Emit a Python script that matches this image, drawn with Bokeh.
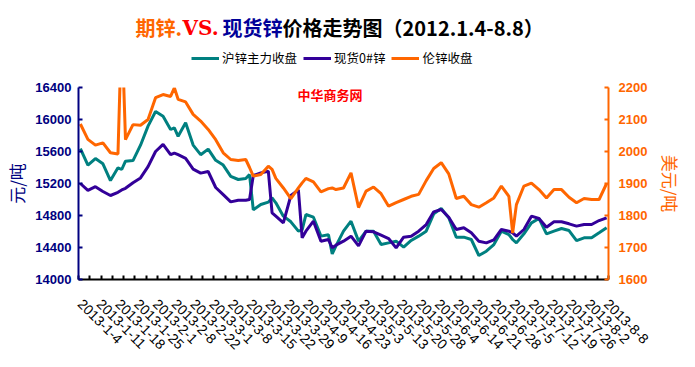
import math
from bokeh.plotting import figure
from bokeh.layouts import column
from bokeh.models import Range1d, LinearAxis, FixedTicker, Legend, Label
from bokeh.embed import file_html
from bokeh.resources import INLINE

# trading-day index (category position) of each reading
DAY = [0, 2, 4, 6, 8, 10, 11, 12, 14, 16, 18, 20, 22, 24, 25, 26, 28, 30, 32, 34,
       36, 38, 40, 42, 44, 45, 46, 48, 50, 51, 52, 54, 56, 58, 59, 60, 62, 64, 66, 67,
       68, 70, 72, 74, 76, 78, 80, 82, 84, 86, 88, 90, 92, 94, 96, 98, 100, 102, 104, 106,
       108, 110, 112, 114, 115, 116, 118, 120, 122, 124, 126, 128, 130, 132, 134, 136, 138, 140]

# 沪锌主力收盘 (yuan/t)
SHFE = [15637, 15429, 15512, 15446, 15237, 15396, 15375, 15479, 15487, 15679, 15917, 16100, 16040, 15875, 15896, 15790, 15960, 15680, 15560, 15630,
        15490, 15430, 15290, 15250, 15262, 15312, 14870, 14938, 14967, 15021, 14958, 14792, 14721, 14604, 14620, 14812, 14779, 14542, 14560, 14320,
        14420, 14604, 14729, 14480, 14604, 14604, 14437, 14458, 14479, 14404, 14488, 14542, 14604, 14821, 14887, 14771, 14529, 14529, 14500, 14300,
        14354, 14437, 14604, 14562, 14500, 14458, 14571, 14708, 14763, 14571, 14604, 14637, 14612, 14487, 14521, 14521, 14583, 14646]

# 现货0#锌 (yuan/t)
SPOT = [15200, 15115, 15160, 15100, 15050, 15090, 15120, 15140, 15210, 15270, 15410, 15600, 15690, 15560, 15580, 15560, 15515, 15380, 15330, 15350,
        15150, 15060, 14970, 14990, 14990, 15000, 15300, 15333, 15354, 14833, 14792, 14708, 15050, 15120, 14521, 14604, 14729, 14479, 14500, 14396,
        14429, 14479, 14542, 14420, 14604, 14596, 14554, 14512, 14396, 14529, 14542, 14604, 14687, 14846, 14875, 14779, 14625, 14646, 14583, 14479,
        14458, 14496, 14625, 14604, 14583, 14542, 14625, 14792, 14763, 14654, 14721, 14721, 14696, 14667, 14687, 14687, 14737, 14771]

# 伦锌收盘 (USD/t)
LME = [2086, 2038, 2020, 2027, 1996, 1992, 2400, 2037, 2084, 2082, 2100, 2168, 2178, 2172, 2199, 2163, 2155, 2116, 2095, 2069,
       2037, 1996, 1975, 1972, 1975, 1950, 1923, 1928, 1954, 1944, 1916, 1886, 1853, 1886, 1902, 1916, 1905, 1874, 1884, 1886,
       1881, 1886, 1933, 1825, 1876, 1889, 1868, 1829, 1840, 1850, 1860, 1866, 1909, 1947, 1965, 1930, 1853, 1860, 1834, 1826,
       1840, 1855, 1892, 1860, 1745, 1834, 1892, 1901, 1881, 1855, 1881, 1881, 1857, 1840, 1853, 1850, 1850, 1900]

LABEL_DAY = list(range(0, 141, 5))
LABEL_TEXT = ["2013-1-4", "2013-1-11", "2013-1-18", "2013-1-25", "2013-2-1", "2013-2-8",
              "2013-2-22", "2013-3-1", "2013-3-8", "2013-3-15", "2013-3-22", "2013-3-29",
              "2013-4-9", "2013-4-16", "2013-4-23", "2013-5-3", "2013-5-13", "2013-5-20",
              "2013-5-28", "2013-6-4", "2013-6-14", "2013-6-21", "2013-6-28", "2013-7-5",
              "2013-7-12", "2013-7-19", "2013-7-26", "2013-8-2", "2013-8-8"]
LEFT_TICKS = [14000, 14400, 14800, 15200, 15600, 16000, 16400]
RIGHT_TICKS = [1600, 1700, 1800, 1900, 2000, 2100, 2200]
SERIES_NAMES = ["沪锌主力收盘", "现货0#锌", "伦锌收盘"]

N_CAT = 141
MINOR = [-0.5 + 3 * k for k in range(N_CAT // 3 + 1)]

TEAL = "#008080"
PURPLE = "#330099"
ORANGE = "#FF6600"
NAVY = "#000080"
CJK = "Noto Sans CJK SC"
LAT = "Liberation Sans"
SERIF = "DejaVu Serif"

W = 692
HEAD_H = 75
FRAME_L, FRAME_R = 78, 608   # page pixel extent of the (aligned) plot frames

# ---------------- header: multi-coloured title + legend ----------------
head = figure(width=W, height=HEAD_H, output_backend="svg", toolbar_location=None,
              x_range=Range1d(FRAME_L, FRAME_R), y_range=Range1d(HEAD_H, 0),
              x_axis_type=None, y_axis_type=None, min_border=0,
              min_border_left=FRAME_L, min_border_right=W - FRAME_R)
head.outline_line_color = None
head.xgrid.visible = False
head.ygrid.visible = False
head.border_fill_color = "white"

title_parts = [("期锌.", ORANGE, 135, CJK), ("VS.", "#FF0000", 182, SERIF),
               ("现货锌", "#000099", 222, CJK), ("价格走势图（2012.1.4-8.8）", "black", 282, CJK)]
for txt, col, xs, fnt in title_parts:
    head.add_layout(Label(x=xs, y=27, text=txt, text_color=col, text_font=fnt,
                          text_font_size="20px", text_font_style="bold",
                          text_baseline="middle", text_align="left"))

# hidden copies of the series, used only to give the legend its line samples
h1 = head.line(DAY, SHFE, color=TEAL, line_width=3, visible=False)
h2 = head.line(DAY, SPOT, color=PURPLE, line_width=3, visible=False)
h3 = head.line(DAY, LME, color=ORANGE, line_width=3, visible=False)
legend = Legend(items=[(SERIES_NAMES[0], [h1]), (SERIES_NAMES[1], [h2]), (SERIES_NAMES[2], [h3])],
                location=(191 - FRAME_L, 8), orientation="horizontal", padding=0, margin=0,
                spacing=6, label_standoff=3, glyph_width=28, glyph_height=14, label_height=14,
                border_line_color=None, background_fill_alpha=0, inactive_fill_alpha=0,
                label_text_font=CJK, label_text_font_size="12.5px", label_text_color="black")
head.add_layout(legend, "center")

# ---------------- main chart ----------------
p = figure(width=W, height=289, output_backend="svg", toolbar_location=None,
           x_range=Range1d(-0.5, N_CAT - 0.5), y_range=Range1d(14000, 16400),
           min_border_left=FRAME_L, min_border_right=W - FRAME_R, min_border_top=12, min_border_bottom=85)
p.extra_y_ranges = {"usd": Range1d(1600, 2200)}
p.outline_line_color = None
p.xgrid.visible = False
p.ygrid.visible = False
p.background_fill_color = "white"
p.border_fill_color = "white"

r1 = p.line(DAY, SHFE, color=TEAL, line_width=3)
r2 = p.line(DAY, SPOT, color=PURPLE, line_width=3)
r3 = p.line(DAY, LME, color=ORANGE, line_width=3, y_range_name="usd")

# x axis
xa = p.xaxis[0]
xa.ticker = FixedTicker(ticks=LABEL_DAY, minor_ticks=MINOR)
xa.major_label_overrides = {d: t for d, t in zip(LABEL_DAY, LABEL_TEXT)}
xa.major_label_orientation = -math.pi / 4
xa.major_label_text_font = LAT
xa.major_label_text_font_size = "14px"
xa.major_label_text_color = "black"
xa.major_label_standoff = 16
xa.axis_line_color = "black"
xa.axis_line_width = 2
xa.major_tick_line_color = None
xa.minor_tick_line_color = "black"
xa.minor_tick_line_width = 2
xa.minor_tick_in = 4
xa.minor_tick_out = 0

# left axis
ya = p.yaxis[0]
ya.ticker = FixedTicker(ticks=LEFT_TICKS)
ya.axis_line_color = NAVY
ya.axis_line_width = 2
ya.major_tick_line_color = NAVY
ya.major_tick_line_width = 2
ya.major_tick_in = 4
ya.major_tick_out = 0
ya.minor_tick_line_color = None
ya.major_label_text_font = LAT
ya.major_label_text_font_style = "bold"
ya.major_label_text_font_size = "13px"
ya.major_label_text_color = NAVY
ya.major_label_standoff = 7
ya.axis_label = "元/吨"
ya.axis_label_text_font = CJK
ya.axis_label_text_font_style = "normal"
ya.axis_label_text_font_size = "17px"
ya.axis_label_text_color = NAVY
ya.axis_label_standoff = 3

# right axis
ra = LinearAxis(y_range_name="usd", ticker=FixedTicker(ticks=RIGHT_TICKS))
ra.axis_line_color = ORANGE
ra.axis_line_width = 2
ra.major_tick_line_color = ORANGE
ra.major_tick_line_width = 2
ra.major_tick_in = 4
ra.major_tick_out = 0
ra.minor_tick_line_color = None
ra.major_label_text_font = LAT
ra.major_label_text_font_style = "bold"
ra.major_label_text_font_size = "13px"
ra.major_label_text_color = ORANGE
ra.major_label_standoff = 10
ra.axis_label = "美元/吨"
ra.axis_label_text_font = CJK
ra.axis_label_text_font_style = "normal"
ra.axis_label_text_font_size = "17px"
ra.axis_label_text_color = ORANGE
ra.axis_label_standoff = 8
p.add_layout(ra, "right")

# watermark
p.add_layout(Label(x=219, y=185, x_units="screen", y_units="screen", text="中华商务网",
                   text_color="#FF0000", text_font=CJK, text_font_size="13px",
                   text_font_style="bold", text_baseline="middle", text_align="left"))

layout = column(head, p, spacing=0)
open("out.html", "w").write(file_html(layout, INLINE))
